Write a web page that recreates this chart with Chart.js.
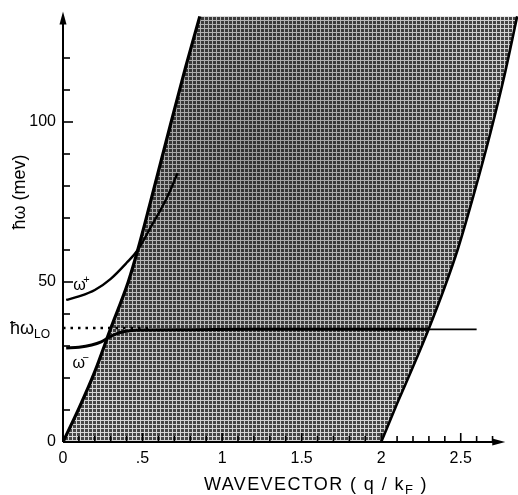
<!DOCTYPE html>
<html><head><meta charset="utf-8">
<script src="https://cdn.jsdelivr.net/npm/chart.js@4.4.1/dist/chart.umd.min.js"></script>
<style>html,body{margin:0;padding:0;background:#fff}#wrap{width:518px;height:495px;position:relative}</style>
</head><body><div id="wrap"><canvas id="c"></canvas></div>
<script>
// ---- data ----
const leftEdgeQ = [0, 0.1, 0.2, 0.3, 0.41, 0.47, 0.55, 0.68, 0.77, 0.86];
const leftEdgeE = [0, 10.5, 22, 35.5, 50, 60, 75, 100, 117, 133];
const rightEdgeQ = [2.0, 2.1, 2.2, 2.3, 2.4, 2.48, 2.58, 2.686, 2.77, 2.855];
const rightEdgeE = [0, 12, 23.5, 35.5, 48.5, 60, 77, 96.5, 113.5, 133];
const omegaPlusQ = [0.02, 0.1, 0.2, 0.3, 0.4, 0.47, 0.55, 0.65, 0.72];
const omegaPlusE = [44.4, 45.5, 47.5, 51, 56, 60, 67, 76, 84];
const omegaMinusQ = [0.02, 0.1, 0.18, 0.24, 0.3, 0.36, 0.42, 0.5, 0.8, 1.2, 1.6, 2.0, 2.3];
const omegaMinusE = [29.4, 29.6, 30.3, 31.3, 33, 34.2, 34.8, 35.0, 35.1, 35.2, 35.2, 35.2, 35.2];
const omegaTailQ = [2.3, 2.6];
const omegaTailE = [35.2, 35.2];
const lOPhononQ = [0, 0.55];
const lOPhononE = [35.6, 35.6];
const xTickValues = [0, 0.5, 1, 1.5, 2, 2.5];
const xTickLabels = ['0', '.5', '1', '1.5', '2', '2.5'];
const yTickValues = [0, 50, 100];
const yTickLabels = ['0', '50', '100'];

const zip = (qs, es) => qs.map((q, i) => ({x: q, y: es[i]}));
const FONT = "'Liberation Sans', Arial, sans-serif";

// halftone-like fill pattern
const pc = document.createElement('canvas');
pc.width = 4; pc.height = 4;
const pctx = pc.getContext('2d');
pctx.fillStyle = 'rgb(70,70,70)'; pctx.fillRect(0, 0, 4, 4);
pctx.fillStyle = 'rgb(215,215,215)'; pctx.fillRect(0, 0, 1, 4); pctx.fillRect(0, 0, 4, 1);
const mainCtx = document.getElementById('c').getContext('2d');
const halftone = mainCtx.createPattern(pc, 'repeat');
// gentle darkening toward the middle of the continuum
const shade = mainCtx.createRadialGradient(250, 150, 10, 250, 150, 300);
shade.addColorStop(0, 'rgba(0,0,0,0.28)');
shade.addColorStop(0.6, 'rgba(0,0,0,0.12)');
shade.addColorStop(1, 'rgba(0,0,0,0)');

const continuum = zip(leftEdgeQ, leftEdgeE).concat(zip(rightEdgeQ, rightEdgeE).reverse());

const decor = {
  id: 'decor',
  afterDatasetsDraw(chart) {
    const ctx = chart.ctx, xs = chart.scales.x, ys = chart.scales.y;
    const X = v => xs.getPixelForValue(v), Y = v => ys.getPixelForValue(v);
    ctx.save();
    ctx.strokeStyle = '#000'; ctx.fillStyle = '#000'; ctx.lineCap = 'butt';
    // axes
    ctx.lineWidth = 2;
    ctx.beginPath(); ctx.moveTo(X(0), Y(0)); ctx.lineTo(X(0), Y(134.5) + 10); ctx.stroke();
    ctx.beginPath(); ctx.moveTo(X(0), Y(0)); ctx.lineTo(X(2.78) - 10, Y(0)); ctx.stroke();
    // arrowheads
    ctx.beginPath(); ctx.moveTo(X(0), Y(134.5)); ctx.lineTo(X(0) - 3.5, Y(134.5) + 13); ctx.lineTo(X(0) + 3.5, Y(134.5) + 13); ctx.closePath(); ctx.fill();
    ctx.beginPath(); ctx.moveTo(X(2.78), Y(0)); ctx.lineTo(X(2.78) - 13, Y(0) - 3.5); ctx.lineTo(X(2.78) - 13, Y(0) + 3.5); ctx.closePath(); ctx.fill();
    // x ticks (inside, every 0.1)
    ctx.lineWidth = 1.6;
    for (let k = 1; k <= 27; k++) {
      const len = (k % 5 === 0) ? 9 : 6;
      ctx.beginPath(); ctx.moveTo(X(k / 10), Y(0)); ctx.lineTo(X(k / 10), Y(0) - len); ctx.stroke();
    }
    // y ticks (inside, every 10)
    for (let k = 1; k <= 12; k++) {
      const len = (k % 5 === 0) ? 10 : 7;
      ctx.beginPath(); ctx.moveTo(X(0), Y(k * 10)); ctx.lineTo(X(0) + len, Y(k * 10)); ctx.stroke();
    }
    // labels
    ctx.textBaseline = 'alphabetic';
    ctx.textAlign = 'left';
    ctx.font = '18px ' + FONT;
    const ly = Y(35.6) + 6;
    ctx.fillText('\u0127\u03c9', 10, ly);
    const w1 = ctx.measureText('\u0127\u03c9').width;
    ctx.font = '12px ' + FONT;
    ctx.fillText('LO', 10 + w1, ly + 4);
    ctx.font = '16px ' + FONT;
    ctx.fillText('\u03c9', X(0.065), Y(48.7) + 4);
    ctx.font = '11px ' + FONT;
    ctx.fillText('+', X(0.065) + 10, Y(48.7) - 3);
    ctx.font = '16px ' + FONT;
    ctx.fillText('\u03c9', X(0.06), Y(24.5) + 4);
    ctx.font = '11px ' + FONT;
    ctx.fillText('\u2212', X(0.06) + 10, Y(24.5) - 3);
    // x axis title
    ctx.font = '18px ' + FONT;
    ctx.letterSpacing = '1.4px';
    const pA = 'WAVEVECTOR ( q / k', pB = 'F', pC = ' )';
    const wa = ctx.measureText(pA).width, wc = ctx.measureText(pC).width;
    ctx.font = '13px ' + FONT;
    const wb = ctx.measureText(pB).width;
    let sx = 316 - (wa + wb + wc) / 2;
    const by = 490;
    ctx.font = '18px ' + FONT; ctx.fillText(pA, sx, by); sx += wa;
    ctx.font = '13px ' + FONT; ctx.fillText(pB, sx, by + 4); sx += wb;
    ctx.font = '18px ' + FONT; ctx.fillText(pC, sx, by);
    ctx.letterSpacing = '0px';
    // y axis title
    ctx.translate(25, 192); ctx.rotate(-Math.PI / 2);
    ctx.textAlign = 'center';
    ctx.font = '18px ' + FONT;
    ctx.fillText('\u0127\u03c9 (mev)', 0, 0);
    ctx.restore();
  }
};

const noPad = s => { s.paddingTop = 0; s.paddingBottom = 0; s.paddingLeft = 0; s.paddingRight = 0; };

new Chart(document.getElementById('c'), {
  type: 'scatter',
  data: {
    datasets: [
      {data: zip(leftEdgeQ, leftEdgeE), showLine: true, borderColor: '#000', borderWidth: 3.2, pointRadius: 0, cubicInterpolationMode: 'monotone', order: 1},
      {data: zip(rightEdgeQ, rightEdgeE), showLine: true, borderColor: '#000', borderWidth: 2.6, pointRadius: 0, cubicInterpolationMode: 'monotone', order: 1},
      {data: zip(omegaPlusQ, omegaPlusE), showLine: true, borderColor: '#000', borderWidth: 2.4, pointRadius: 0, cubicInterpolationMode: 'monotone', order: 1},
      {data: zip(omegaMinusQ, omegaMinusE), showLine: true, borderColor: '#000', borderWidth: 3, pointRadius: 0, cubicInterpolationMode: 'monotone', order: 1},
      {data: zip(omegaTailQ, omegaTailE), showLine: true, borderColor: '#000', borderWidth: 1.8, pointRadius: 0, order: 1},
      {data: zip(lOPhononQ, lOPhononE), showLine: true, borderColor: '#000', borderWidth: 2.5, borderDash: [2.5, 5], pointRadius: 0, order: 1},
      {data: continuum, showLine: true, borderWidth: 0, borderColor: 'rgba(0,0,0,0)', backgroundColor: shade, fill: 'shape', pointRadius: 0, tension: 0, order: 9},
      {data: continuum, showLine: true, borderWidth: 0, borderColor: 'rgba(0,0,0,0)', backgroundColor: halftone, fill: 'shape', pointRadius: 0, tension: 0, order: 10}
    ]
  },
  options: {
    animation: false, responsive: true, maintainAspectRatio: false, events: [],
    layout: {padding: {top: 10, right: 0, left: 0, bottom: 0}},
    plugins: {legend: {display: false}, tooltip: {enabled: false}},
    scales: {
      x: {
        type: 'linear', min: 0, max: 2.86,
        afterFit: s => { s.height = 53; noPad(s); },
        afterBuildTicks: s => { s.ticks = xTickValues.map(v => ({value: v})); },
        grid: {display: false, drawTicks: false}, border: {display: false},
        ticks: {color: '#000', font: {family: FONT, size: 16}, padding: 7, maxRotation: 0, autoSkip: false,
          callback: v => xTickLabels[xTickValues.indexOf(v)]}
      },
      y: {
        type: 'linear', min: 0, max: 135,
        afterFit: s => { s.width = 63; noPad(s); },
        afterBuildTicks: s => { s.ticks = yTickValues.map(v => ({value: v})); },
        grid: {display: false, drawTicks: false}, border: {display: false},
        ticks: {color: '#000', font: {family: FONT, size: 16}, padding: 7,
          callback: v => yTickLabels[yTickValues.indexOf(v)]}
      }
    }
  },
  plugins: [decor]
});
</script></body></html>
